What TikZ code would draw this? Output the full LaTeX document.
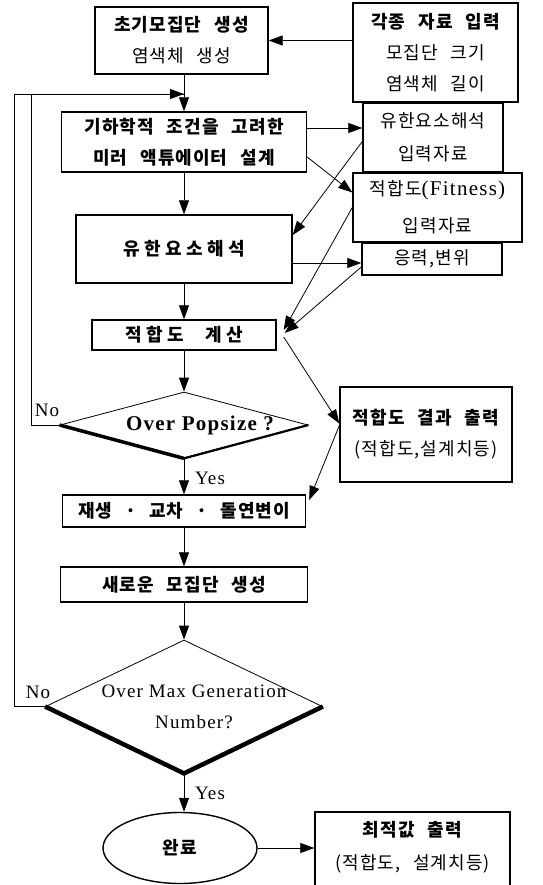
\documentclass[tikz,border=0pt]{standalone}
\usepackage{fontspec}
\setmainfont{Liberation Serif}[LetterSpace=6]
\newfontfamily\kr{Noto Sans CJK KR}[LetterSpace=6,WordSpace=2.5]
\newfontfamily\krw{Noto Sans CJK KR}[LetterSpace=25,WordSpace=2.5]
\usetikzlibrary{arrows.meta,shapes.geometric}

\begin{document}
\begin{tikzpicture}[x=1pt,y=-1pt,
  box/.style={draw,line width=1.4pt,rectangle,align=center,inner sep=0pt,font=\kr\fontsize{18}{31}\selectfont},
  diam/.style={draw,line width=.8pt,diamond,inner sep=0pt},
  arr/.style={-{Triangle[length=14pt,width=10pt]},line width=.8pt},
  yn/.style={font=\fontsize{19}{19}\selectfont,inner sep=0pt}]
\useasboundingbox (0,0) rectangle (542,885);
\clip (0,0) rectangle (542,885);

% main column
\node[box,minimum width=173pt,minimum height=67pt] (init) at (181.5,40.5) {{\bfseries 초기모집단 생성}\\염색체 생성};
\node[box,minimum width=245pt,minimum height=60pt] (design) at (184,142) {\bfseries 기하학적 조건을 고려한\\\bfseries 미러 액튜에이터 설계};
\node[box,minimum width=216pt,minimum height=68pt] (fea) at (184,249) {\krw\bfseries 유한요소해석};
\node[box,minimum width=184pt,minimum height=30pt] (fitcalc) at (184,335) {\krw\bfseries 적합도 계산};
\node[diam,minimum width=248pt,minimum height=66pt,
  label={[font=\fontsize{21}{31}\selectfont\bfseries,xshift=16pt]center:Over Popsize ?}] (pop) at (184,425) {};
\node[box,minimum width=243pt,minimum height=32pt] (genop) at (184,511) {\bfseries 재생 · 교차 · 돌연변이};
\node[box,minimum width=247pt,minimum height=35pt] (newpop) at (184,584.5) {\bfseries 새로운 모집단 생성};
\node[diam,minimum width=277pt,minimum height=133pt,
  label={[font=\fontsize{19}{31}\selectfont,align=center,xshift=10pt]center:Over Max Generation\\Number?}] (maxgen) at (184,706.5) {};
\node[box,ellipse,minimum width=154pt,minimum height=71pt] (done) at (180,848) {\bfseries 완료};

% side boxes
\node[box,minimum width=165pt,minimum height=99pt] (input) at (435.5,52.5) {{\bfseries 각종 자료 입력}\\모집단 크기\\염색체 길이};
\node[box,minimum width=140pt,minimum height=69pt] (feinp) at (433,137.5) {유한요소해석\\[2pt]입력자료};
\node[box,minimum width=169pt,minimum height=69pt] (fitinp) at (437.5,207.5) {적합도{\rmfamily\fontsize{21}{21}\selectfont(Fitness)}\\[6pt]입력자료};
\node[box,minimum width=140pt,minimum height=32pt] (stress) at (432,259) {응력,변위};
\node[box,minimum width=172pt,minimum height=95pt] (fitout) at (426,434.5) {{\bfseries 적합도 결과 출력}\\(적합도,설계치등)};
\node[box,minimum width=195pt,minimum height=80pt,text depth=14pt] (optout) at (412.5,852) {{\bfseries 최적값 출력}\\[2pt](적합도, 설계치등)};

% yes / no
\node[yn] (nopop) at (47,410) {No};
\node[yn] (nomax) at (38,692) {No};
\node[yn] (yespop) at (210,478) {Yes};
\node[yn] (yesmax) at (210,793) {Yes};

% thick lower edges of the decisions
\draw[line width=3.5pt] (pop.west) -- (pop.south);
\draw[line width=2.2pt] (pop.south) -- (pop.east);
\draw[line width=4.5pt] (maxgen.west) -- (maxgen.south) -- (maxgen.east);

% flow
\coordinate (loopin) at (184,94);
\draw[arr] (input.west |- init.east) -- (init.east);
\draw[arr] (init.south -| design.north) -- (design.north);
\draw[arr] (design) -- (fea);
\draw[arr] (fea) -- (fitcalc);
\draw[arr] (fitcalc) -- (pop);
\draw[arr] (pop) -- (genop);
\draw[arr] (genop) -- (newpop);
\draw[arr] (newpop) -- (maxgen);
\draw[arr] (maxgen.south) -- (maxgen.south |- done.north);
\draw[arr] (done) -- (done -| optout.west);

% loops back
\draw[arr] (maxgen.west) -- ++(-31,0) |- (loopin);
\draw[line width=.8pt] (pop.west) -- ++(-28,0) |- (loopin);

% data links
\draw[arr] ([yshift=14pt]design.east) -- ([yshift=14pt]design.east -| feinp.west);
\draw[arr] ([yshift=-15pt]design.east) -- ([yshift=15pt]fitinp.west);
\draw[arr] ([yshift=-4pt]feinp.west) -- ([yshift=14pt]fea.east);
\draw[arr] ([yshift=-14pt]fea.east) -- ([yshift=-14pt]fea.east -| stress.west);
\draw[arr] ([yshift=-8pt]stress.west) -- ([xshift=8pt,yshift=2pt]fitcalc.east);
\draw[arr] (fitinp.west) -- ([xshift=7pt,yshift=5pt]fitcalc.east);
\draw[arr] ([xshift=7pt,yshift=-2pt]fitcalc.east) -- ([yshift=11pt]fitout.west);
\draw[arr] ([yshift=9pt]fitout.west) -- ([xshift=3pt,yshift=11pt]genop.east);
\end{tikzpicture}
\end{document}
